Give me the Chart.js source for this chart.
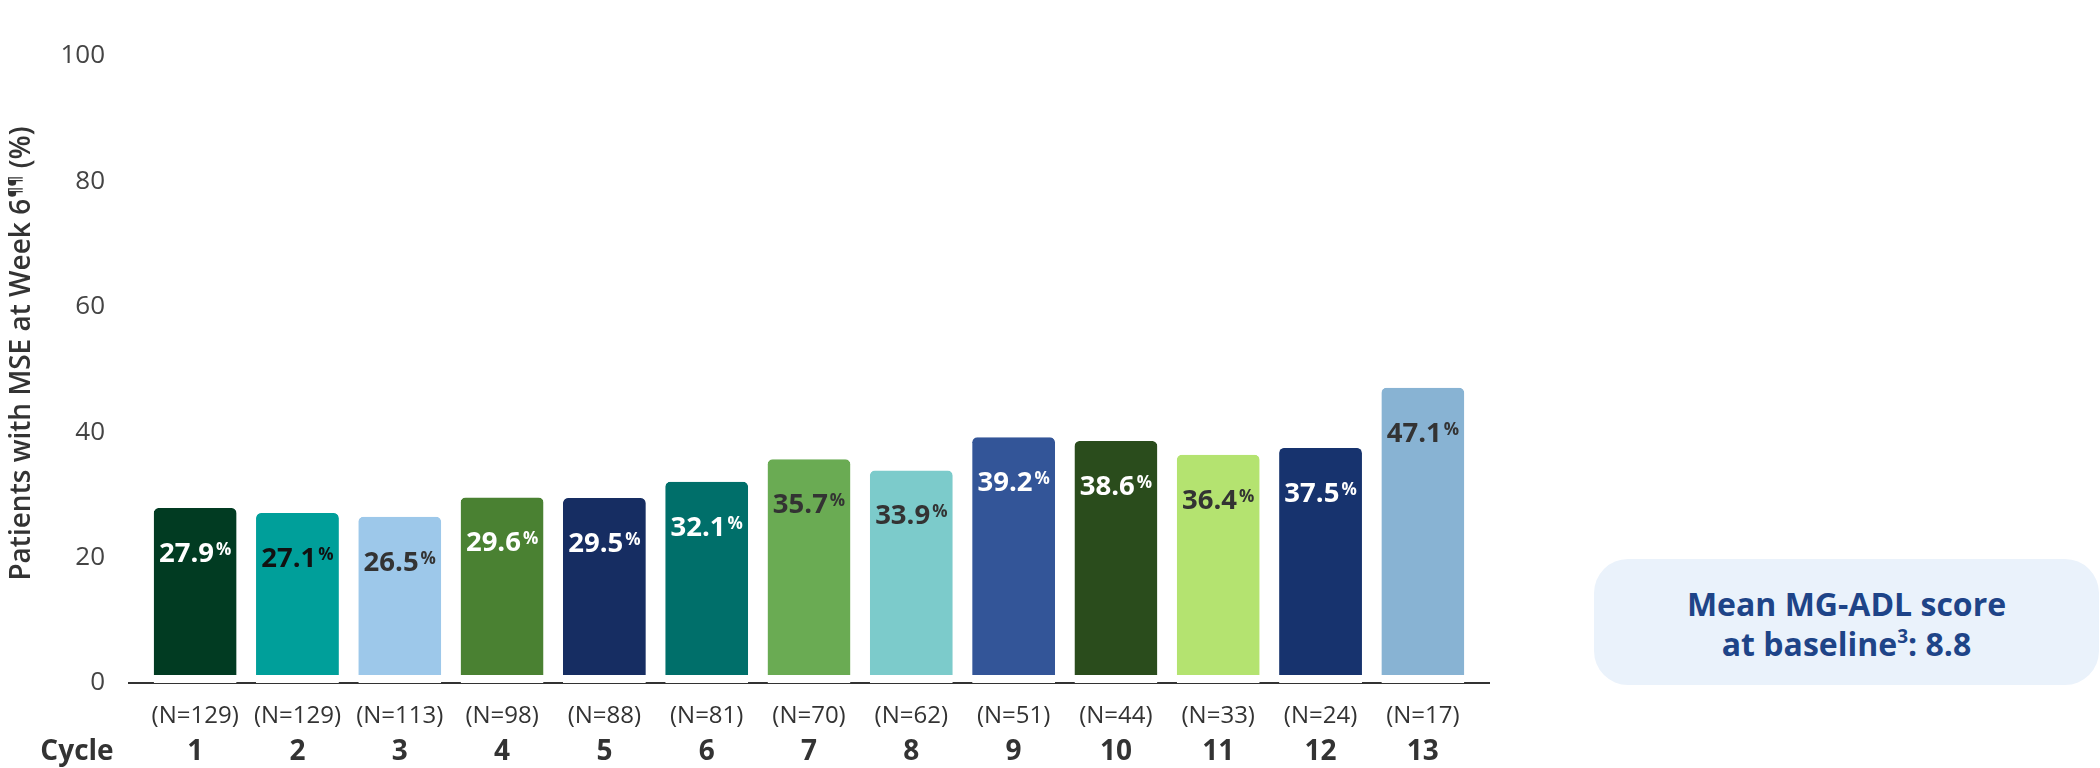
<!DOCTYPE html>
<html>
<head>
<meta charset="utf-8">
<script src="https://cdn.jsdelivr.net/npm/chart.js@4.4.1/dist/chart.umd.min.js"></script>
<style>
  html, body { margin: 0; padding: 0; background: #fff; }
  #wrap { position: relative; width: 2100px; height: 768px; }
  #note {
    position: absolute; left: 1594px; top: 559px; width: 505px; height: 126px;
    border-radius: 34px; background: #eaf2fb; color: #1e4488;
    font-family: "Open Sans", sans-serif; font-weight: 700; font-size: 32px; line-height: 40px;
    display: flex; align-items: center; justify-content: center; text-align: center;
    padding-top: 4px; box-sizing: border-box;
  }
  #note sup { font-size: 19px; line-height: 0; vertical-align: 13px; }
</style>
</head>
<body>
<div id="wrap">
  <canvas id="mycanvas" width="2100" height="768"></canvas>
  <div id="note"><div>Mean MG-ADL score<br>at baseline<sup>3</sup>: 8.8</div></div>
</div>
<script>
var cycles = ['1', '2', '3', '4', '5', '6', '7', '8', '9', '10', '11', '12', '13'];
var patientCounts = ['(N=129)', '(N=129)', '(N=113)', '(N=98)', '(N=88)', '(N=81)', '(N=70)', '(N=62)', '(N=51)', '(N=44)', '(N=33)', '(N=24)', '(N=17)'];
var mseRates = [27.9, 27.1, 26.5, 29.6, 29.5, 32.1, 35.7, 33.9, 39.2, 38.6, 36.4, 37.5, 47.1];
var yTicks = [0, 20, 40, 60, 80, 100];

var barColors = ['#013b22', '#009f9a', '#9dc8ea', '#4a8132', '#162d62', '#006f6a', '#6aab53',
                 '#7ccbcb', '#335598', '#2a4c1c', '#b4e370', '#17336e', '#88b3d3'];
var labelColors = ['#fff', '#111', '#333', '#fff', '#fff', '#fff', '#333',
                   '#333', '#fff', '#fff', '#333', '#fff', '#333'];

var FONT = '"Open Sans", sans-serif';

// value labels, axis line, y title and "Cycle"
var extras = {
	id: 'extras',
	beforeDatasetsDraw: function(chart) {
		var ctx = chart.ctx, area = chart.chartArea;
		var y0 = chart.scales.y.getPixelForValue(0);
		ctx.save();
		ctx.strokeStyle = '#333';
		ctx.lineWidth = 2;
		ctx.beginPath();
		ctx.moveTo(area.left - 16, y0);
		ctx.lineTo(area.right + 16, y0);
		ctx.stroke();
		ctx.restore();
	},
	afterDatasetsDraw: function(chart) {
		var ctx = chart.ctx;
		var meta = chart.getDatasetMeta(0);
		ctx.save();
		meta.data.forEach(function(bar, i) {
			var num = mseRates[i].toFixed(1);
			ctx.font = '700 27.5px ' + FONT;
			var w1 = ctx.measureText(num).width;
			ctx.font = '700 17px ' + FONT;
			var w2 = ctx.measureText('%').width;
			var gap = 2;
			var x = bar.x - (w1 + gap + w2) / 2;
			var cy = bar.y + 46;
			ctx.fillStyle = labelColors[i];
			ctx.textAlign = 'left';
			ctx.textBaseline = 'middle';
			ctx.font = '700 27.5px ' + FONT;
			ctx.fillText(num, x, cy);
			ctx.textBaseline = 'alphabetic';
			ctx.font = '700 17px ' + FONT;
			ctx.fillText('%', x + w1 + gap, cy + 1);
		});
		ctx.restore();
	},
	afterDraw: function(chart) {
		var ctx = chart.ctx, area = chart.chartArea;
		ctx.save();
		// y axis title with superscript
		var main = 'Patients with MSE at Week 6', sup = '\u00b6\u00b6', tail = ' (%)';
		ctx.font = '600 28px ' + FONT;
		var wm = ctx.measureText(main).width, wt = ctx.measureText(tail).width;
		ctx.font = '600 17px ' + FONT;
		var ws = ctx.measureText(sup).width;
		var total = wm + ws + 1 + wt;
		ctx.translate(22, (area.top + area.bottom) / 2 - 16);
		ctx.rotate(-Math.PI / 2);
		ctx.fillStyle = '#333';
		ctx.textBaseline = 'middle';
		ctx.textAlign = 'left';
		var sx = -total / 2;
		ctx.font = '600 28px ' + FONT;
		ctx.fillText(main, sx, 0);
		ctx.font = '600 17px ' + FONT;
		ctx.fillText(sup, sx + wm + 1, -7);
		ctx.font = '600 28px ' + FONT;
		ctx.fillText(tail, sx + wm + 1 + ws, 0);
		ctx.restore();

		ctx.save();
		var x2 = chart.scales.x2;
		ctx.font = '700 28px ' + FONT;
		ctx.fillStyle = '#333';
		ctx.textAlign = 'center';
		ctx.textBaseline = 'middle';
		ctx.fillText('Cycle', 77, x2.top + 4 + 16.8);
		ctx.restore();
	}
};

var ctx = document.getElementById('mycanvas');

var barGraph = new Chart(ctx, {
	type: 'bar',
	data: {
		labels: cycles,
		datasets: [{
			label: 'Patients with MSE',
			data: mseRates,
			backgroundColor: barColors,
			borderColor: '#ffffff',
			borderWidth: { top: 0, left: 0, right: 0, bottom: 8 },
			borderSkipped: false,
			borderRadius: { topLeft: 5, topRight: 5, bottomLeft: 0, bottomRight: 0 },
			categoryPercentage: 1.0,
			barPercentage: 0.81
		}]
	},
	options: {
		responsive: false,
		devicePixelRatio: 1,
		animation: false,
		layout: { padding: { top: 56, right: 626, left: 0, bottom: 0 } },
		plugins: {
			legend: { display: false },
			tooltip: { enabled: false }
		},
		scales: {
			y: {
				min: 0,
				max: 100,
				afterFit: function(s) { s.width = 144; },
				afterBuildTicks: function(s) { s.ticks = yTicks.map(function(v) { return { value: v }; }); },
				grid: { display: false, drawTicks: false },
				border: { display: false },
				ticks: {
					padding: 39,
					color: '#444',
					font: { family: FONT, size: 26 }
				}
			},
			x: {
				weight: 0,
				afterFit: function(s) { s.height = 48; },
				grid: { display: false, drawTicks: false },
				border: { display: false },
				ticks: {
					padding: 19,
					color: '#333',
					font: { family: FONT, size: 24 },
					maxRotation: 0,
					autoSkip: false,
					callback: function(v, i) { return patientCounts[i]; }
				}
			},
			x2: {
				type: 'category',
				position: 'bottom',
				weight: 1,
				labels: cycles,
				offset: true,
				afterFit: function(s) { s.height = 37; },
				grid: { display: false, drawTicks: false },
				border: { display: false },
				ticks: {
					padding: 4,
					color: '#333',
					font: { family: FONT, size: 28, weight: '700' },
					maxRotation: 0,
					autoSkip: false
				}
			}
		}
	},
	plugins: [extras]
});
</script>
</body>
</html>
